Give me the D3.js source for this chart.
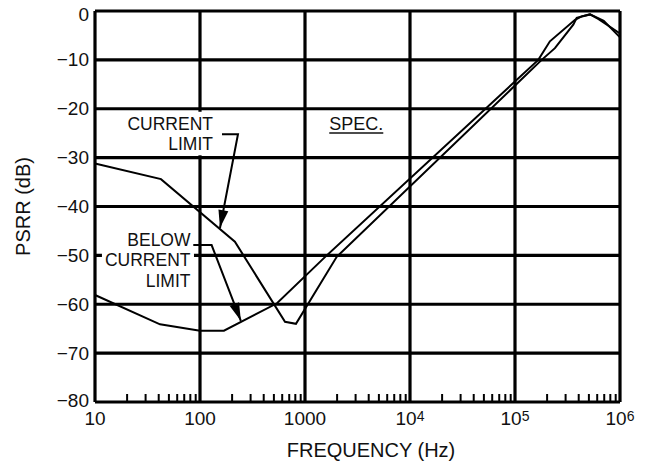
<!DOCTYPE html>
<html>
<head>
<meta charset="utf-8">
<script src="https://cdn.jsdelivr.net/npm/d3@7"></script>
<style>
  body { margin: 0; background: #fff; }
  svg { display: block; font-family: "Liberation Sans", Arial, sans-serif; }
</style>
</head>
<body>
<svg id="chart" width="650" height="469"></svg>
<script>
// Frequency (Hz) and PSRR (dB)
var limitFreq = [10, 42.5, 215, 645, 820, 2005, 179600, 240000, 359000, 387000, 518000, 620000, 1000000];
var limitPsrr = [-31.2, -34.4, -47.2, -63.6, -64.0, -50.3, -10, -7.6, -2.8, -1.4, -0.7, -1.6, -4.6];

var belowFreq = [10, 41.6, 100, 169, 541, 1611, 166700, 215000, 373000, 431000, 518000, 700000, 1000000];
var belowPsrr = [-58.1, -64.1, -65.4, -65.4, -59.8, -50, -10, -6.2, -1.8, -1.1, -0.7, -2.0, -5.4];

var xTickValues = [10, 100, 1000, 1e4, 1e5, 1e6];
var xTickBase = ["10", "100", "1000", "10", "10", "10"];
var xTickSup = ["", "", "", "4", "5", "6"];
var yTickValues = [0, -10, -20, -30, -40, -50, -60, -70, -80];

var svg = d3.select("#chart");
var margin = {left: 95, right: 30, top: 11, bottom: 67};
var width = 650, height = 469;

var x = d3.scaleLog()
    .domain([10, 1e6])
    .range([margin.left, width - margin.right]);
var y = d3.scaleLinear()
    .domain([-80, 0])
    .range([height - margin.bottom, margin.top]);

svg.append("rect")
    .attr("width", width).attr("height", height)
    .attr("fill", "#fff");

/* grid */
var grid = svg.append("g").attr("stroke", "#000").attr("stroke-width", 3.2);
grid.selectAll("line.v")
    .data(xTickValues)
  .enter().append("line")
    .attr("class", "v")
    .attr("x1", function(d) { return x(d); })
    .attr("x2", function(d) { return x(d); })
    .attr("y1", y(0)).attr("y2", y(-80));
grid.selectAll("line.h")
    .data(yTickValues)
  .enter().append("line")
    .attr("class", "h")
    .attr("x1", x(10)).attr("x2", x(1e6))
    .attr("y1", function(d) { return y(d); })
    .attr("y2", function(d) { return y(d); });

// minor ticks along the bottom edge, pointing up
var minorTicks = x.ticks().filter(function(d) {
  return Math.abs(Math.log10(d) - Math.round(Math.log10(d))) > 1e-6;
});
var minor = svg.append("g")
    .attr("transform", "translate(0," + y(-80) + ")")
    .call(d3.axisTop(x).tickValues(minorTicks).tickSize(8).tickFormat(""));
minor.select(".domain").remove();
minor.selectAll("line").attr("stroke", "#000").attr("stroke-width", 2);

/* y tick labels */
var yAxis = svg.append("g")
    .attr("transform", "translate(" + x(10) + ",0)")
    .call(d3.axisLeft(y).tickValues(yTickValues).tickSize(0).tickPadding(6));
yAxis.select(".domain").remove();
yAxis.selectAll("text")
    .attr("font-family", "'Liberation Sans', Arial, sans-serif")
    .attr("font-size", 19)
    .attr("fill", "#111");
// keep the end labels inside the frame like the original
yAxis.selectAll(".tick").filter(function(d) { return d === 0; })
    .select("text").attr("y", 3);
yAxis.selectAll(".tick").filter(function(d) { return d === -80; })
    .select("text").attr("y", -2);

/* x tick labels with superscript exponents */
var xLabels = svg.append("g")
    .attr("font-size", 19)
    .attr("fill", "#111")
    .attr("text-anchor", "middle");
xTickValues.forEach(function(v, i) {
  var t = xLabels.append("text")
      .attr("x", x(v))
      .attr("y", y(-80) + 22.5);
  t.append("tspan").text(xTickBase[i]);
  if (xTickSup[i]) {
    t.append("tspan").attr("font-size", 14).attr("dy", -4).text(xTickSup[i]);
  }
});

/* axis titles */
svg.append("text")
    .attr("x", 371).attr("y", 457)
    .attr("text-anchor", "middle")
    .attr("font-size", 20)
    .attr("fill", "#111")
    .text("FREQUENCY (Hz)");
svg.append("text")
    .attr("transform", "translate(30," + ((y(0) + y(-80)) / 2) + ") rotate(-90)")
    .attr("text-anchor", "middle")
    .attr("font-size", 20)
    .attr("fill", "#111")
    .text("PSRR (dB)");

/* curves */
var line = d3.line()
    .x(function(d) { return x(d[0]); })
    .y(function(d) { return y(d[1]); });

[d3.zip(limitFreq, limitPsrr), d3.zip(belowFreq, belowPsrr)].forEach(function(series) {
  svg.append("path")
      .datum(series)
      .attr("fill", "none")
      .attr("stroke", "#000")
      .attr("stroke-width", 2)
      .attr("d", line);
});

/* annotations, placed in data units */
function label(lines, f, dbs) {
  var g = svg.append("g");
  var box = g.append("rect").attr("fill", "#fff");
  var txt = g.append("g")
      .attr("font-size", 17.5)
      .attr("fill", "#111")
      .attr("text-anchor", "end");
  lines.forEach(function(s, i) {
    txt.append("text").attr("x", x(f)).attr("y", y(dbs[i])).text(s);
  });
  // white knock-out behind the words, from cap top to last baseline
  var bb = txt.node().getBBox();
  var top = y(dbs[0]) - 13 - 5, bottom = y(dbs[dbs.length - 1]) + 5;
  box.attr("x", bb.x - 3).attr("y", top)
     .attr("width", bb.width + 6).attr("height", bottom - top);
}

function leader(pts) {
  var p = pts.map(function(d) { return [x(d[0]), y(d[1])]; });
  svg.append("path")
      .attr("d", d3.line()(p))
      .attr("fill", "none")
      .attr("stroke", "#000")
      .attr("stroke-width", 2);
  var tip = p[p.length - 1], from = p[p.length - 2];
  var a = Math.atan2(tip[1] - from[1], tip[0] - from[0]);
  var len = 18, hw = 5;
  var bx = tip[0] - len * Math.cos(a), by = tip[1] - len * Math.sin(a);
  var head = [
    tip,
    [bx + hw * Math.sin(a), by - hw * Math.cos(a)],
    [bx - hw * Math.sin(a), by + hw * Math.cos(a)]
  ];
  svg.append("path")
      .attr("d", d3.line()(head) + "Z")
      .attr("fill", "#000");
}

label(["CURRENT", "LIMIT"], 133, [-24.3, -28.5]);
leader([[162, -25.2], [230, -25.2], [155, -44.4]]);

label(["BELOW", "CURRENT", "LIMIT"], 81.2, [-48.0, -52.2, -56.4]);
leader([[86.3, -47.9], [129, -47.9], [245, -63.4]]);

var spec = svg.append("text")
    .attr("x", x(1702)).attr("y", y(-24.35))
    .attr("font-size", 18)
    .attr("fill", "#111")
    .text("SPEC.");
var sb = spec.node().getBBox();
svg.append("line")
    .attr("x1", sb.x).attr("x2", sb.x + sb.width)
    .attr("y1", y(-24.35) + 3).attr("y2", y(-24.35) + 3)
    .attr("stroke", "#111").attr("stroke-width", 1.5);
</script>
</body>
</html>
